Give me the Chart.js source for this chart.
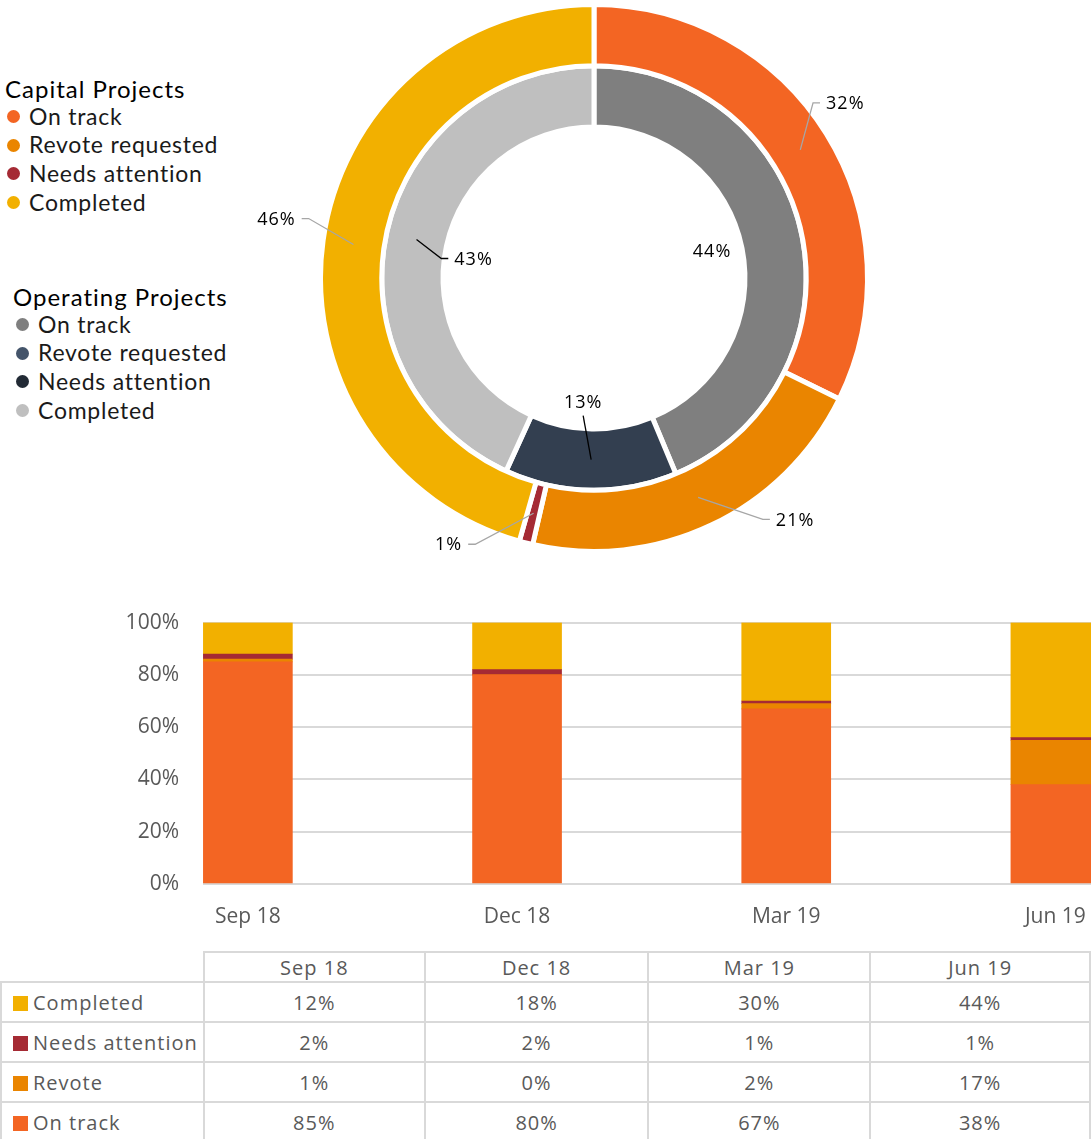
<!DOCTYPE html>
<html>
<head>
<meta charset="utf-8">
<script src="https://cdn.jsdelivr.net/npm/chart.js@4.4.0/dist/chart.umd.min.js"></script>
<style>
  html, body { margin: 0; padding: 0; width: 1091px; height: 1139px; overflow: hidden; background: #fff; }
  .box { position: absolute; }
  .legend-title { position: absolute; font-family: Lato, sans-serif; font-size: 24px; letter-spacing: 1px; color: #000; white-space: nowrap; line-height: 1; }
  .legend-item { position: absolute; font-family: Lato, sans-serif; font-size: 23px; letter-spacing: 0.75px; color: #1a1a1a; white-space: nowrap; line-height: 1; }
  .legend-item i { position: absolute; width: 13px; height: 13px; border-radius: 50%; top: 50%; margin-top: -6px; }
  #dataTable { position: absolute; left: 0; top: 951px; border-collapse: collapse; table-layout: fixed;
    font-family: 'Open Sans', sans-serif; font-size: 20px; color: #595959; letter-spacing: 1px; }
  #dataTable td { border: 2px solid #D9D9D9; text-align: center; padding: 0; white-space: nowrap; }
  #dataTable tr.head td { height: 28px; }
  #dataTable tr.body td { height: 38px; }
  #dataTable td.corner { border-top: none; border-left: none; }
  #dataTable td.name { text-align: left; padding-left: 11px; }
  #dataTable td.name span { display: inline-block; width: 15px; height: 15px; margin-right: 5px; vertical-align: -1px; }
</style>
</head>
<body>
<div id="legend"></div>
<div class="box" style="left:198px;top:2px;width:792px;height:552px"><canvas id="ringChart"></canvas></div>
<div class="box" style="left:0;top:586px;width:1190px;height:354px"><canvas id="barChart"></canvas></div>
<table id="dataTable"></table>

<script>
// ring chart: share of projects by status (latest quarter)
const statusNames = ['On track', 'Revote requested', 'Needs attention', 'Completed'];
const capitalShare = [32.3, 21.3, 0.8, 45.6];
const operatingShare = [43.7, 0, 13.1, 43.2];

const capitalColors = ['#F36523', '#EA8500', '#A52A34', '#F2B000'];
const operatingColors = ['#7F7F7F', '#44546A', '#333F50', '#BFBFBF'];
const operatingLegendColors = ['#7F7F7F', '#44546A', '#222A35', '#BFBFBF'];

// quarterly trend for capital projects
const periods = ['Sep 18', 'Dec 18', 'Mar 19', 'Jun 19'];
const trendSeries = ['On track', 'Revote', 'Needs attention', 'Completed'];
const onTrack = [85, 80, 67, 38];
const revote = [1, 0, 2, 17];
const needsAttention = [2, 2, 1, 1];
const completed = [12, 18, 30, 44];
const yTicks = [0, 20, 40, 60, 80, 100];

// label placement relative to each slice centre: [dx, dy, leader]
const capitalLabelPos = [[45, -46, 'h'], [97, 23, 'h'], [-85, 32, 'h'], [-77, -25, 'h']];
const operatingLabelPos = [[-60, 10, ''], [0, 0, ''], [-8, -57, 'v'], [57, 20, 'h']];

// ---- html legend ----
const legend = document.getElementById('legend');
function addLegend(title, colors, titleX, titleY, dotX, textX, firstY) {
    const t = document.createElement('div');
    t.className = 'legend-title';
    t.textContent = title;
    t.style.left = titleX + 'px';
    t.style.top = (titleY - 12) + 'px';
    legend.appendChild(t);
    statusNames.forEach((name, i) => {
        const d = document.createElement('div');
        d.className = 'legend-item';
        d.style.left = textX + 'px';
        d.style.top = (firstY + i * 28.7 - 11.5) + 'px';
        d.innerHTML = '<i style="background:' + colors[i] + ';left:' + (dotX - textX - 6) + 'px"></i>' + name;
        legend.appendChild(d);
    });
}
addLegend('Capital Projects', capitalColors, 5, 89, 13, 29, 116);
addLegend('Operating Projects', operatingLegendColors, 13, 297, 22, 38, 324);

// ---- ring labels plugin ----
const ringLabels = {
    id: 'ringLabels',
    afterDatasetsDraw(chart) {
        const ctx = chart.ctx;
        ctx.save();
        ctx.font = '18px "Open Sans"';
        ctx.letterSpacing = '1px';
        ctx.textAlign = 'center';
        ctx.textBaseline = 'middle';
        ctx.lineWidth = 1.3;
        const sets = [[capitalLabelPos, '#A6A6A6'], [operatingLabelPos, '#000000']];
        chart.data.datasets.forEach((ds, di) => {
            const [placement, lineColor] = sets[di];
            chart.getDatasetMeta(di).data.forEach((arc, i) => {
                const v = ds.data[i];
                if (!v) return;
                const a = arc.tooltipPosition();
                const [dx, dy, leader] = placement[i];
                const x = a.x + dx, y = a.y + dy;
                const text = Math.round(v) + '%';
                ctx.strokeStyle = lineColor;
                ctx.beginPath();
                if (leader === 'h') {
                    const side = Math.sign(dx);
                    const w = ctx.measureText(text).width;
                    const edge = x - side * (w / 2 + 6);
                    ctx.moveTo(a.x, a.y);
                    ctx.lineTo(edge - side * 7, y - 1);
                    ctx.lineTo(edge, y - 1);
                    ctx.stroke();
                } else if (leader === 'v') {
                    ctx.moveTo(a.x, a.y);
                    ctx.lineTo(x, y + 13);
                    ctx.stroke();
                }
                ctx.fillStyle = '#000';
                ctx.fillText(text, x, y);
            });
        });
        ctx.restore();
    }
};

new Chart(document.getElementById('ringChart'), {
    type: 'doughnut',
    data: {
        labels: statusNames,
        datasets: [
            { data: capitalShare, backgroundColor: capitalColors, borderColor: '#fff', borderWidth: 5, hoverOffset: 0 },
            { data: operatingShare, backgroundColor: operatingColors, borderColor: '#fff', borderWidth: 5, hoverOffset: 0 }
        ]
    },
    options: {
        responsive: true,
        maintainAspectRatio: false,
        animation: false,
        cutout: '55.2%',
        events: [],
        layout: { padding: { left: 120, right: 120 } },
        plugins: { legend: { display: false }, tooltip: { enabled: false } }
    },
    plugins: [ringLabels]
});

// ---- stacked bars ----
const trendValues = [onTrack, revote, needsAttention, completed];
new Chart(document.getElementById('barChart'), {
    type: 'bar',
    data: {
        datasets: trendSeries.map((name, k) => ({
            label: name,
            data: periods.map((p, i) => ({ x: i, y: trendValues[k][i] })),
            backgroundColor: capitalColors[k],
            barThickness: 89
        }))
    },
    options: {
        responsive: true,
        maintainAspectRatio: false,
        animation: false,
        events: [],
        layout: { padding: { top: 9, right: 0, bottom: 0, left: 0 } },
        plugins: { legend: { display: false }, tooltip: { enabled: false } },
        scales: {
            x: {
                type: 'linear',
                stacked: true,
                offset: false,
                min: -0.1667,
                max: 3.5,
                grid: { display: false, drawTicks: false },
                border: { display: false },
                afterBuildTicks: (axis) => { axis.ticks = periods.map((p, i) => ({ value: i })); },
                ticks: {
                    callback: (v) => periods[v],
                    color: '#595959',
                    font: { family: 'Open Sans', size: 21 },
                    padding: 20,
                    maxRotation: 0,
                    autoSkip: false
                },
                afterFit: (axis) => { axis.height = 56; }
            },
            y: {
                stacked: true,
                min: 0,
                max: 100,
                afterBuildTicks: (axis) => { axis.ticks = yTicks.map(v => ({ value: v })); },
                ticks: {
                    callback: (v) => v + '%',
                    color: '#595959',
                    font: { family: 'Open Sans', size: 21 },
                    padding: 24
                },
                grid: { color: '#D9D9D9', lineWidth: 2, drawTicks: false },
                border: { display: false },
                afterFit: (axis) => { axis.width = 203; }
            }
        }
    }
});

// ---- data table under the bars ----
const table = document.getElementById('dataTable');
const colWidths = [203, 223, 226, 224, 222];
let html = '<colgroup>' + colWidths.map(w => '<col style="width:' + w + 'px">').join('') + '</colgroup>';
html += '<tr class="head"><td class="corner"></td>' + periods.map(p => '<td>' + p + '</td>').join('') + '</tr>';
for (let k = trendSeries.length - 1; k >= 0; k--) {
    html += '<tr class="body"><td class="name"><span style="background:' + capitalColors[k] + '"></span>' + trendSeries[k] + '</td>' +
        trendValues[k].map(v => '<td>' + v + '%</td>').join('') + '</tr>';
}
table.innerHTML = html;
</script>
</body>
</html>
